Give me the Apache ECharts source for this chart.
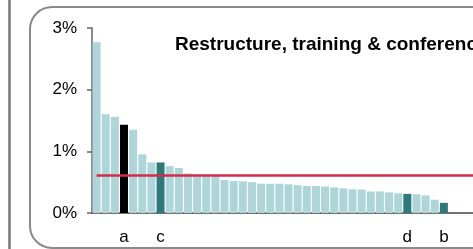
<!DOCTYPE html>
<html>
<head>
<meta charset="utf-8">
<script src="https://cdn.jsdelivr.net/npm/echarts@6/dist/echarts.min.js"></script>
<style>
  html, body { margin: 0; padding: 0; background: #fff; overflow: hidden; }
  #chart { width: 560px; height: 249px; }
</style>
</head>
<body>
<div id="chart"></div>
<script>
// share of spend per unit, sorted
const values = [2.77, 1.60, 1.56, 1.43, 1.35, 0.95, 0.82, 0.82, 0.76, 0.73,
  0.64, 0.61, 0.60, 0.60, 0.535, 0.52, 0.515, 0.50, 0.475, 0.475,
  0.475, 0.465, 0.45, 0.44, 0.44, 0.43, 0.415, 0.40, 0.385, 0.38,
  0.35, 0.35, 0.335, 0.32, 0.31, 0.305, 0.285, 0.215, 0.165]
const labels = ['', '', '', 'a', '', '', '', 'c', '', '',
  '', '', '', '', '', '', '', '', '', '',
  '', '', '', '', '', '', '', '', '', '',
  '', '', '', '', 'd', '', '', '', 'b']
const average = 0.605
const yTicks = [0, 1, 2, 3]
const title = 'Restructure, training & conference'

const light = '#aed6d9'
const teal = '#2e7a7b'
const highlight = { a: '#000000', c: teal, d: teal, b: teal }

// the picture is cropped on the right: axis and average line run on past the last bar
const axisData = labels.concat(['', '', '', ''])
const lastSlot = axisData.length - 1

let myChart = echarts.init(document.getElementById('chart'))
let option = {
  animation: false,
  textStyle: { fontFamily: 'Liberation Sans' },
  title: {
    text: title,
    left: 170,
    top: 30,
    textStyle: { fontSize: 19, fontWeight: 'bold', color: '#000', fontFamily: 'Liberation Sans' }
  },
  graphic: [
    {
      type: 'line',
      shape: { x1: 9.5, y1: 0, x2: 9.5, y2: 249 },
      style: { stroke: '#777', lineWidth: 2.5 }
    },
    {
      type: 'rect',
      shape: { x: 30, y: 7, width: 560, height: 241, r: 22 },
      style: { fill: 'none', stroke: '#8a8a8a', lineWidth: 2 }
    }
  ],
  grid: { left: 92, top: 28, bottom: 36, width: 9.14 * axisData.length },
  xAxis: {
    type: 'category',
    data: axisData,
    axisTick: { show: false },
    axisLine: { lineStyle: { color: '#444', width: 1.5 } },
    axisLabel: {
      interval: 0,
      margin: 16,
      fontSize: 17,
      color: '#000'
    }
  },
  yAxis: {
    type: 'value',
    min: yTicks[0],
    max: yTicks[yTicks.length - 1],
    interval: 1,
    splitLine: { show: false },
    axisLine: { show: true, lineStyle: { color: '#666', width: 1.5 } },
    axisTick: { show: true, length: 5, lineStyle: { color: '#666', width: 1.5 } },
    axisLabel: { margin: 15, fontSize: 17, color: '#000', formatter: '{value}%' }
  },
  series: [
    {
      type: 'bar',
      barWidth: 8,
      data: values.map((v, i) => ({
        value: v,
        itemStyle: { color: highlight[labels[i]] || light }
      })),
      markLine: {
        silent: true,
        symbol: 'none',
        label: { show: false },
        lineStyle: { color: '#d42a4c', width: 2.5, type: 'solid' },
        data: [[{ coord: [0, average] }, { coord: [lastSlot, average] }]]
      }
    }
  ]
}
option && myChart.setOption(option)
</script>
</body>
</html>
